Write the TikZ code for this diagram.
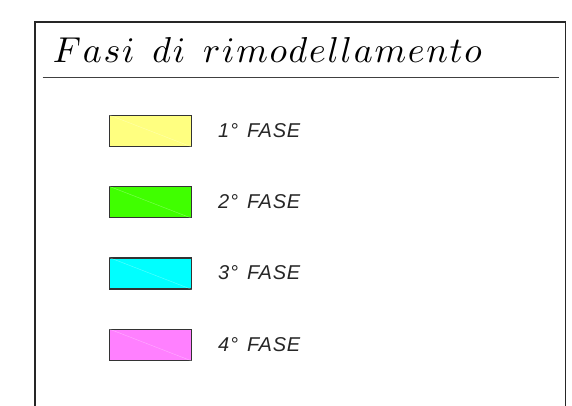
\documentclass[tikz,border=0pt]{standalone}
\usepackage{fontspec}
\DeclareFontShape{OML}{cmm}{m}{it}{<->cmmi10}{}
\newfontfamily\labelfont[LetterSpace=4]{Liberation Sans}
\newcommand\lk{\kern1.7pt}
\begin{document}
\begin{tikzpicture}[x=1pt,y=-1pt,
  frame/.style={line width=1.5pt,draw=black!85},
  swatch/.style={draw=black!80,line width=1.2pt,minimum width=82pt,minimum height=31pt,inner sep=0pt},
  phase/.style={anchor=base west,inner sep=0pt,font=\labelfont\itshape\fontsize{20}{20}\selectfont,text=black!85},
  hatch/.style={white,line width=0.4pt,opacity=0.35}]
\useasboundingbox (0,0) rectangle (572,405);
\draw[frame] (35,410) -- (35,22) -- (565.5,22) -- (565.5,410);
\coordinate (ul) at (42.7,77.5);
\coordinate (ur) at (559,77.5);
\draw[line width=1pt,black!75] (ul) -- (ur);
\node[anchor=base,inner sep=0pt,font=\fontsize{36}{36}\selectfont] (title) at (267.5,62)
  {$F\lk a\lk s\lk i\hspace{18pt}d\lk i\hspace{18pt}r\lk i\lk m\lk o\lk d\lk e\lk l\lk l\lk a\lk m\lk e\lk n\lk t\lk o$};
\node[swatch,fill={rgb,255:red,255;green,255;blue,128}] (s1) at (150.5,131) {};
\node[swatch,fill={rgb,255:red,64;green,255;blue,0}] (s2) at (150.5,202.3) {};
\node[swatch,fill={rgb,255:red,0;green,255;blue,255}] (s3) at (150.5,273.5) {};
\node[swatch,fill={rgb,255:red,255;green,128;blue,255}] (s4) at (150.5,345) {};
\foreach \i in {1,2,3,4} {\draw[hatch] (s\i.north west) -- (s\i.south east);}
\node[phase] (f1) at (218,137.5) {1°\hspace{9pt}FASE};
\node[phase] (f2) at (218,208.5) {2°\hspace{9pt}FASE};
\node[phase] (f3) at (218,279.5) {3°\hspace{9pt}FASE};
\node[phase] (f4) at (218,351) {4°\hspace{9pt}FASE};
\end{tikzpicture}
\end{document}
